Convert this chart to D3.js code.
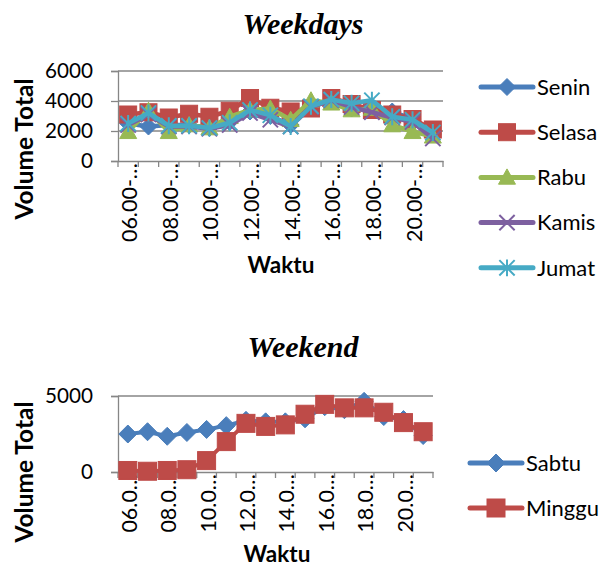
<!DOCTYPE html>
<html><head><meta charset="utf-8">
<script src="https://cdn.jsdelivr.net/npm/d3@7"></script>
<style>body{margin:0;background:#fff}svg{display:block}</style>
</head><body>
<script>
// ---- data ----
const categories = ["06.00-07.00","07.00-08.00","08.00-09.00","09.00-10.00","10.00-11.00","11.00-12.00","12.00-13.00","13.00-14.00","14.00-15.00","15.00-16.00","16.00-17.00","17.00-18.00","18.00-19.00","19.00-20.00","20.00-21.00","21.00-22.00"];
const weekdayTickLabels = ["06.00-…","","08.00-…","","10.00-…","","12.00-…","","14.00-…","","16.00-…","","18.00-…","","20.00-…",""];
const weekendTickLabels = ["06.0…","","08.0…","","10.0…","","12.0…","","14.0…","","16.0…","","18.0…","","20.0…",""];
const weekdayYTicks = [0,2000,4000,6000];
const weekendYTicks = [0,5000];
const senin  = [2500,2300,2400,2400,2200,2600,3300,3000,2400,3700,4000,3500,3600,3300,2800,1800];
const selasa = [3100,3250,2900,3150,2950,3350,4200,3550,3300,3500,4200,3800,3400,3100,2800,2100];
const rabu   = [1950,3350,1950,2400,2200,2950,3400,3500,2750,4050,3850,3400,3500,2400,1950,1650];
const kamis  = [2400,3100,2300,2300,2150,2400,3200,2750,2300,3600,4050,3600,3250,2900,2600,1500];
const jumat  = [2500,3200,2350,2350,2200,2550,3400,3050,2300,3650,4100,3850,4050,2950,2750,1900];
const sabtu  = [2500,2650,2350,2600,2800,3050,3400,3300,3300,3500,4300,4100,4650,3650,3450,2400];
const minggu = [100,50,100,150,750,2000,3200,3000,3100,3800,4450,4220,4220,3930,3250,2650];
const weekdaySeries = [
  {name:"Senin", values:senin, color:"#4A7EBB", marker:"diamond"},
  {name:"Selasa", values:selasa, color:"#BE4B48", marker:"square"},
  {name:"Rabu", values:rabu, color:"#98B954", marker:"triangle"},
  {name:"Kamis", values:kamis, color:"#7D60A0", marker:"x"},
  {name:"Jumat", values:jumat, color:"#46AAC5", marker:"star"}
];
const weekendSeries = [
  {name:"Sabtu", values:sabtu, color:"#4A7EBB", marker:"diamond"},
  {name:"Minggu", values:minggu, color:"#BE4B48", marker:"square"}
];

const FONT = "Lato, 'Open Sans', sans-serif";
const svg = d3.select("body").append("svg").attr("width",602).attr("height",568);
svg.append("rect").attr("width",602).attr("height",568).attr("fill","#fff");

function drawMarker(g, type, x, y, color, s){
  if(type==="diamond"){
    g.append("path").attr("d",`M${x},${y-s*0.5}L${x+s*0.5},${y}L${x},${y+s*0.5}L${x-s*0.5},${y}Z`).attr("fill",color).attr("stroke",color).attr("stroke-width",1);
  } else if(type==="square"){
    g.append("rect").attr("x",x-s/2).attr("y",y-s/2).attr("width",s).attr("height",s).attr("fill",color).attr("stroke",color).attr("stroke-width",1);
  } else if(type==="triangle"){
    g.append("path").attr("d",`M${x},${y-s*0.5}L${x+s*0.5},${y+s*0.4}L${x-s*0.5},${y+s*0.4}Z`).attr("fill",color).attr("stroke",color);
  } else if(type==="x"){
    const h=s*0.45;
    g.append("path").attr("d",`M${x-h},${y-h}L${x+h},${y+h}M${x-h},${y+h}L${x+h},${y-h}`).attr("stroke",color).attr("stroke-width",2);
  } else if(type==="star"){
    const h=s*0.45;
    g.append("path").attr("d",`M${x-h},${y-h}L${x+h},${y+h}M${x-h},${y+h}L${x+h},${y-h}M${x},${y-h*1.1}L${x},${y+h*1.1}`).attr("stroke",color).attr("stroke-width",2);
  }
}

function chart(cfg){
  const x = d3.scaleBand().domain(categories).range([cfg.left,cfg.right]);
  const y = d3.scaleLinear().domain([0,cfg.ymax]).range([cfg.bottom,cfg.top]);
  const g = svg.append("g");
  // title
  g.append("text").attr("x",cfg.titleX).attr("y",cfg.titleY).attr("text-anchor","middle")
    .attr("font-family","'Liberation Serif', 'Times New Roman', serif").attr("font-weight","bold").attr("font-style","italic")
    .attr("font-size",30).text(cfg.title);
  // gridlines
  g.selectAll(".grid").data(cfg.yticks.filter(d=>d>0)).enter().append("line")
    .attr("x1",cfg.left).attr("x2",cfg.right).attr("y1",d=>y(d)).attr("y2",d=>y(d))
    .attr("stroke","#868686").attr("stroke-width",1.3);
  // y axis
  const ya = g.append("g").attr("transform",`translate(${cfg.left},0)`)
    .call(d3.axisLeft(y).tickValues(cfg.yticks).tickSize(7).tickPadding(18).tickFormat(d3.format("d")));
  ya.select(".domain").attr("stroke","#868686").attr("stroke-width",1.3);
  ya.selectAll(".tick line").attr("stroke","#868686").attr("stroke-width",1.3);
  ya.selectAll("text").attr("font-family",FONT).attr("font-size",21.5).attr("fill","#000")
    .attr("textLength",d=>String(d).length*12).attr("lengthAdjust","spacingAndGlyphs");
  // x axis
  const xa = g.append("g").attr("transform",`translate(0,${cfg.bottom})`)
    .call(d3.axisBottom(x).tickSize(0).tickFormat((d,i)=>cfg.tickLabels[i]));
  xa.select(".domain").attr("stroke","#868686").attr("stroke-width",1.3);
  xa.selectAll(".tick text").attr("font-family",FONT).attr("font-size",21.5).attr("fill","#000")
    .attr("transform","rotate(-90)").attr("text-anchor","end").attr("x",-2).attr("y",1.5).attr("dy","0.35em");
  // tick marks at category boundaries
  const bounds = categories.map(c=>x(c)).concat([cfg.right]);
  g.selectAll(".xt").data(bounds).enter().append("line")
    .attr("x1",d=>d).attr("x2",d=>d).attr("y1",cfg.bottom).attr("y2",cfg.bottom+6)
    .attr("stroke","#868686").attr("stroke-width",1.3);
  // axis titles
  g.append("text").attr("transform",`translate(${cfg.yTitleX},${cfg.yTitleY}) rotate(-90)`).attr("text-anchor","middle")
    .attr("font-family",FONT).attr("font-weight","bold").attr("font-size",24.5).attr("dy","0.35em").text("Volume Total");
  g.append("text").attr("x",cfg.xTitleX).attr("y",cfg.xTitleY).attr("text-anchor","middle").attr("dy","0.35em")
    .attr("font-family",FONT).attr("font-weight","bold").attr("font-size",22.5).text("Waktu");
  // series
  const line = d3.line().x((d,i)=>x(categories[i])+x.bandwidth()/2).y(d=>y(d));
  cfg.series.forEach(s=>{
    const sg = g.append("g");
    sg.append("path").attr("d",line(s.values)).attr("fill","none").attr("stroke",s.color)
      .attr("stroke-width",cfg.lw).attr("stroke-linejoin","round").attr("stroke-linecap","round");
    s.values.forEach((v,i)=>drawMarker(sg,s.marker,x(categories[i])+x.bandwidth()/2,y(v),s.color,cfg.ms));
  });
  // legend
  cfg.series.forEach((s,i)=>{
    const ly = cfg.legY + i*cfg.legStep;
    const lg = g.append("g");
    lg.append("line").attr("x1",cfg.legX).attr("x2",cfg.legX+52).attr("y1",ly).attr("y2",ly)
      .attr("stroke",s.color).attr("stroke-width",5).attr("stroke-linecap","round");
    drawMarker(lg,s.marker,cfg.legX+26,ly,s.color,cfg.ms);
    lg.append("text").attr("x",cfg.legX+56).attr("y",ly).attr("dy","0.35em")
      .attr("font-family",FONT).attr("font-size",22).text(s.name);
  });
}

chart({title:"Weekdays", titleX:303, titleY:34, left:118, right:443, top:71, bottom:161, ymax:6000,
  yticks:weekdayYTicks, tickLabels:weekdayTickLabels, series:weekdaySeries,
  yTitleX:24, yTitleY:149, xTitleX:281, xTitleY:265, lw:4.5, ms:17,
  legX:481, legY:87, legStep:45.2});
chart({title:"Weekend", titleX:303, titleY:357, left:118, right:433, top:396, bottom:472, ymax:5000,
  yticks:weekendYTicks, tickLabels:weekendTickLabels, series:weekendSeries,
  yTitleX:24, yTitleY:472, xTitleX:277, xTitleY:554, lw:4, ms:18,
  legX:470, legY:463, legStep:45});
</script>
</body></html>
